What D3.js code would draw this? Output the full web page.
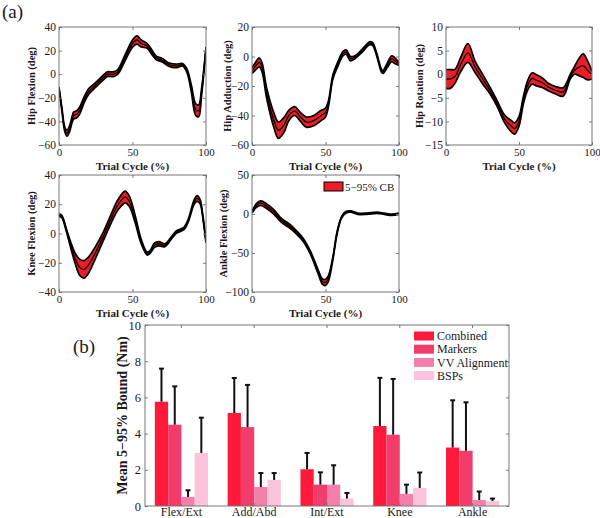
<!DOCTYPE html>
<html><head><meta charset="utf-8">
<script src="https://cdn.jsdelivr.net/npm/d3@7"></script>
<style>body{margin:0;background:#fff} svg{display:block} text{font-family:"Liberation Serif","Times New Roman",serif;fill:#1a1a1a}</style>
</head><body><svg id="c" width="600" height="518"></svg>
<script>
// ---------- Data: curve panels (x = % trial cycle, mean, half-width of 5-95% band) ----------
const hipFlexX    = [0,2,4,5.5,7,9,10,12,14,17,20,25,30,33,37,40,45,50,53,56,60,63,66,70,75,80,84,87,90,93,95,97,100];
const hipFlexMean = [-12,-30,-47,-50,-47,-38,-35,-34,-31,-22,-15,-9,-3,0,0,2,14,26,29,26,24,19,14,12,8,7,8,3,-12,-30,-31,-15,22];
const hipFlexHW   = [1,1.5,2,2.5,2.5,2.5,3,3,3,2.5,2.5,2,2,2,2,2,2.5,3,3.5,3,2,2,1.5,1.5,1.5,1.5,1,1.5,3,5,5,3,1];

const hipAddX    = [0,2,5,7,10,15,18,22,25,29,33,37,42,47,50,52,55,58,62,64,67,70,75,80,82,85,88,89,92,95,97,100];
const hipAddMean = [-9.5,-7,-4,-8,-25,-43.5,-50,-46,-40,-37,-41,-44.5,-43.5,-40,-38,-32,-14,-6,2,3,-1.5,-0.5,4,9,8.5,0.7,-9.5,-10.5,-6,-1.5,-2.7,-5];
const hipAddHW   = [2,2.5,3,3,3.5,5,5.5,5,3.5,3,3,3.5,3.5,3.5,3,2,1.5,1.5,1.5,1.5,1.5,1,1,1,1,1,1,1,1.5,2,2,1];

const hipRotX    = [0,3,6,10,15,20,25,30,35,40,45,47,50,53,56,59,62,66,70,75,80,82,85,88,91,94,97,100];
const hipRotMean = [-1,-1,-0.5,2,4.5,1.5,-1,-3.4,-6.2,-9.4,-11.1,-11.5,-10,-5.5,-2.3,-0.9,-1.3,-1.8,-2.7,-3.4,-3.8,-3,-0.6,0.8,1.5,1.8,0.8,-0.2];
const hipRotHW   = [2,2,1.5,1.5,2,1.2,1,0.7,0.6,0.8,1.2,1.2,1,0.8,1,1.2,1.2,1,0.8,0.8,0.9,0.8,0.5,0.8,1.8,2.5,2,0.8];

const kneeX    = [0,2,5,8,11,14,17,20,25,30,35,40,45,48,52,56,60,62,65,68,72,77,80,85,88,92,94,96,98,100];
const kneeMean = [12.6,11.4,2.3,-8,-17,-23,-24.5,-21.7,-12.6,-2.3,9.1,19.4,25,21.7,9.1,-5.7,-13.7,-12.6,-8,-7,-8,-2.3,1.1,3.4,9.1,21.7,24,21.7,10.3,-5.7];
const kneeHW   = [0.8,0.8,1,2,3.5,5.5,6,5.5,4,3,3,3.5,4,3.5,2.5,1.5,1,1,1.5,1.5,1,0.8,0.8,0.8,1,1.5,2,1.5,1,0.8];

const ankleX    = [0,3,6,10,15,20,25,30,35,40,45,48,50,52,55,58,61,64,67,72,78,85,90,95,100];
const ankleMean = [2.4,10.9,13.9,10,2.4,-8.2,-14.6,-23.1,-33.7,-50.7,-74.1,-86.8,-87.7,-82.6,-57,-23,-4,2.4,3.3,0.3,0.3,1.6,0.3,-1,0.3];
const ankleHW   = [1,2.5,3,3,3,2.5,2.5,2,2,2,2.5,3.5,4,3.5,2,1.5,1,1,0.8,0.8,0.8,0.8,0.8,0.8,0.8];

const xTicksCurve = [0,50,100];

// ---------- Data: bar chart ----------
const jointCategories = ["Flex/Ext","Add/Abd","Int/Ext","Knee","Ankle"];
const seriesNames = ["Combined","Markers","VV Alignment","BSPs"];
const combinedMean = [5.76,5.14,2.03,4.42,3.23];
const combinedErr  = [7.59,7.07,2.93,7.08,5.84];
const markersMean  = [4.49,4.36,1.18,3.94,3.05];
const markersErr   = [6.61,6.69,1.86,7.02,5.73];
const vvMean       = [0.50,1.05,1.18,0.67,0.33];
const vvErr        = [0.87,1.82,2.25,1.18,0.80];
const bspMean      = [2.93,1.44,0.41,1.00,0.28];
const bspErr       = [4.88,1.82,0.72,1.85,0.41];
const barYTicks = [0,2,4,6,8,10];

// ---------- Drawing ----------
const svg = d3.select("#c");
const BAND = "#ee1c25";
const AXC = "#777";
const SERIF = '"Liberation Serif","Times New Roman",serif';

const panels = [
  {xs:hipFlexX, mean:hipFlexMean, hw:hipFlexHW, label:"Hip Flexion (deg)", dom:[-60,40], ticks:[-60,-40,-20,0,20,40], x0:59,x1:206,y0:27,y1:145, lx:31},
  {xs:hipAddX, mean:hipAddMean, hw:hipAddHW, label:"Hip Adduction (deg)", dom:[-60,20], ticks:[-60,-40,-20,0,20], x0:252,x1:399,y0:27,y1:145, lx:227},
  {xs:hipRotX, mean:hipRotMean, hw:hipRotHW, label:"Hip Rotation (deg)", dom:[-15,10], ticks:[-15,-10,-5,0,5,10], x0:446,x1:592,y0:27,y1:145, lx:419},
  {xs:kneeX, mean:kneeMean, hw:kneeHW, label:"Knee Flexion (deg)", dom:[-40,40], ticks:[-40,-20,0,20,40], x0:59,x1:206,y0:175,y1:292, lx:31},
  {xs:ankleX, mean:ankleMean, hw:ankleHW, label:"Ankle Flexion (deg)", dom:[-100,50], ticks:[-100,-50,0,50], x0:252,x1:399,y0:175,y1:292, lx:223, legend:true}
];

function styleAxis(g){
  g.attr("font-family",SERIF);
  g.select(".domain").remove();
  g.selectAll(".tick line").attr("stroke",AXC);
  g.selectAll(".tick text").attr("fill","#1a1a1a");
}

panels.forEach((p,i)=>{
  const x = d3.scaleLinear().domain([0,100]).range([p.x0,p.x1]);
  const y = d3.scaleLinear().domain(p.dom).range([p.y1,p.y0]);
  const g = svg.append("g");
  const pts = p.xs.map((v,k)=>({x:v,m:p.mean[k],h:p.hw[k]}));
  const cid = "clip"+i;
  svg.append("clipPath").attr("id",cid).append("rect")
    .attr("x",p.x0).attr("y",p.y0).attr("width",p.x1-p.x0).attr("height",p.y1-p.y0);
  const cg = g.append("g").attr("clip-path",`url(#${cid})`);
  const curve = d3.curveCatmullRom.alpha(0.5);
  cg.append("path").datum(pts)
    .attr("d",d3.area().x(d=>x(d.x)).y0(d=>y(d.m-d.h)).y1(d=>y(d.m+d.h)).curve(curve))
    .attr("fill",BAND);
  const line = acc => d3.line().x(d=>x(d.x)).y(acc).curve(curve);
  cg.append("path").datum(pts).attr("d",line(d=>y(d.m+d.h))).attr("fill","none").attr("stroke","#000").attr("stroke-width",1.7);
  cg.append("path").datum(pts).attr("d",line(d=>y(d.m-d.h))).attr("fill","none").attr("stroke","#000").attr("stroke-width",1.7);
  cg.append("path").datum(pts).attr("d",line(d=>y(d.m))).attr("fill","none").attr("stroke","#000").attr("stroke-width",1.3);

  g.append("g").attr("transform",`translate(0,${p.y1})`)
    .call(d3.axisBottom(x).tickValues(xTicksCurve).tickSize(-3).tickPadding(3).tickFormat(d3.format("d")))
    .call(styleAxis).selectAll("text").attr("font-size",11);
  g.append("g").attr("transform",`translate(0,${p.y0})`)
    .call(d3.axisTop(x).tickValues(xTicksCurve).tickSize(-3).tickFormat(""))
    .call(styleAxis);
  g.append("g").attr("transform",`translate(${p.x0},0)`)
    .call(d3.axisLeft(y).tickValues(p.ticks).tickSize(-3).tickPadding(3).tickFormat(d3.format("d")))
    .call(styleAxis).selectAll("text").attr("font-size",11.5);
  g.append("g").attr("transform",`translate(${p.x1},0)`)
    .call(d3.axisRight(y).tickValues(p.ticks).tickSize(-3).tickFormat(""))
    .call(styleAxis);
  g.append("rect").attr("x",p.x0).attr("y",p.y0).attr("width",p.x1-p.x0).attr("height",p.y1-p.y0)
    .attr("fill","none").attr("stroke",AXC).attr("stroke-width",1);

  g.append("text").attr("x",(p.x0+p.x1)/2).attr("y",p.y1+24.5).attr("text-anchor","middle")
    .attr("font-size",11).attr("font-weight","bold").text("Trial Cycle (%)");
  g.append("text").attr("transform",`translate(${p.lx},${(p.y0+p.y1)/2}) rotate(-90)`)
    .attr("text-anchor","middle").attr("dy","0.35em")
    .attr("font-size",10.5).attr("font-weight","bold").text(p.label);

  if(p.legend){
    g.append("rect").attr("x",324).attr("y",182).attr("width",19).attr("height",9)
      .attr("fill",BAND).attr("stroke","#000").attr("stroke-width",1);
    g.append("text").attr("x",345).attr("y",190.5).attr("font-size",11).text("5\u221295% CB");
  }
});

svg.append("text").attr("x",2).attr("y",18).attr("font-size",19).text("(a)");
svg.append("text").attr("x",73).attr("y",353).attr("font-size",19).text("(b)");

// ---------- Bar chart ----------
const bx0=145,bx1=509,by0=325,by1=506;
const xb = d3.scaleBand().domain(jointCategories).range([bx0,bx1]).paddingInner(0.27).paddingOuter(0.135);
const xs = d3.scaleBand().domain(seriesNames).range([0,xb.bandwidth()]);
const yb = d3.scaleLinear().domain([0,10]).range([by1,by0]);
const barColors = d3.scaleOrdinal().domain(seriesNames).range(["#ff1a3c","#f23d6c","#f47fa9","#fcc3da"]);
const seriesMeans = [combinedMean,markersMean,vvMean,bspMean];
const seriesErrs  = [combinedErr,markersErr,vvErr,bspErr];

const bg = svg.append("g");
jointCategories.forEach((cat,ci)=>{
  seriesNames.forEach((s,si)=>{
    const m = seriesMeans[si][ci], e = seriesErrs[si][ci];
    const xl = xb(cat)+xs(s);
    bg.append("rect").attr("x",xl).attr("y",yb(m)).attr("width",xs.bandwidth()).attr("height",yb(0)-yb(m))
      .attr("fill",barColors(s));
    const cx = xl+xs.bandwidth()/2;
    bg.append("line").attr("x1",cx).attr("x2",cx).attr("y1",yb(m)).attr("y2",yb(e)).attr("stroke","#111").attr("stroke-width",2);
    bg.append("line").attr("x1",cx-2.5).attr("x2",cx+2.5).attr("y1",yb(e)).attr("y2",yb(e)).attr("stroke","#111").attr("stroke-width",2);
  });
});
bg.append("g").attr("transform",`translate(0,${by1})`)
  .call(d3.axisBottom(xb).tickSize(-3).tickPadding(1.5))
  .call(styleAxis).selectAll("text").attr("font-size",12);
bg.append("g").attr("transform",`translate(0,${by0})`)
  .call(d3.axisTop(xb).tickSize(-3).tickFormat(""))
  .call(styleAxis);
bg.append("g").attr("transform",`translate(${bx0},0)`)
  .call(d3.axisLeft(yb).tickValues(barYTicks).tickSize(-3).tickPadding(4))
  .call(styleAxis).selectAll("text").attr("font-size",12.5);
bg.append("g").attr("transform",`translate(${bx1},0)`)
  .call(d3.axisRight(yb).tickValues(barYTicks).tickSize(-3).tickFormat(""))
  .call(styleAxis);
bg.append("rect").attr("x",bx0).attr("y",by0).attr("width",bx1-bx0).attr("height",by1-by0)
  .attr("fill","none").attr("stroke",AXC);
bg.append("text").attr("transform",`translate(122,${(by0+by1)/2}) rotate(-90)`)
  .attr("text-anchor","middle").attr("dy","0.35em").attr("font-size",14).attr("font-weight","bold")
  .text("Mean 5\u221295% Bound (Nm)");

const lg = bg.append("g");
seriesNames.forEach((s,i)=>{
  const cy = 336 + i*13.2;
  lg.append("rect").attr("x",414).attr("y",cy-4.5).attr("width",20).attr("height",9).attr("fill",barColors(s));
  lg.append("text").attr("x",437).attr("y",cy).attr("dy","0.35em").attr("font-size",12).text(s);
});
</script></body></html>
